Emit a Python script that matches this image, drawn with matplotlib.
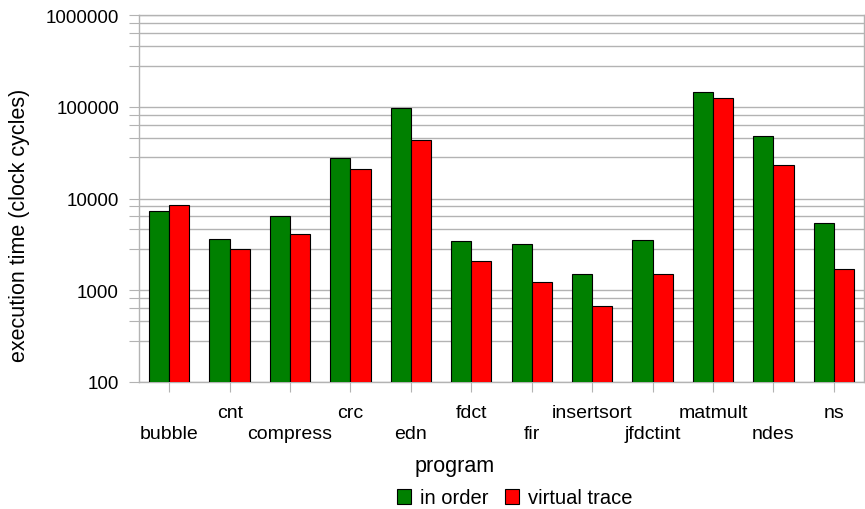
import numpy as np
import matplotlib
matplotlib.use('Agg')
import matplotlib.pyplot as plt
from matplotlib.ticker import FixedLocator, FuncFormatter, NullFormatter
from matplotlib.patches import Patch

plt.rcParams['font.family'] = ['Liberation Sans', 'DejaVu Sans']

# data
programs = ['bubble', 'cnt', 'compress', 'crc', 'edn', 'fdct', 'fir',
            'insertsort', 'jfdctint', 'matmult', 'ndes', 'ns']
in_order = [7350, 3610, 6480, 27500, 96600, 3430, 3190, 1500, 3520, 145000, 47900, 5400]
virtual_trace = [8400, 2810, 4100, 21200, 43300, 2080, 1215, 678, 1510, 124000, 23300, 1700]

grid_col = '#b3b3b3'

fig = plt.figure(figsize=(8.65, 5.1), dpi=100)
ax = fig.add_axes([139 / 865, 1 - 383 / 510, 725 / 865, 367 / 510])

x = np.arange(len(programs))
w = 1 / 3
ax.bar(x - w / 2, in_order, w, color='#008000', edgecolor='black', linewidth=0.8, zorder=3)
ax.bar(x + w / 2, virtual_trace, w, color='#ff0000', edgecolor='black', linewidth=0.8, zorder=3)

ax.set_yscale('log')
ax.set_ylim(100, 1000000)
ax.set_xlim(-0.5, len(programs) - 0.5)

# major ticks at decades, minor lines split each decade linearly in 5
majors = [10.0 ** p for p in range(2, 7)]
minors = [10.0 ** p * (1 + 1.8 * k) for p in range(2, 6) for k in range(1, 5)]
ax.yaxis.set_major_locator(FixedLocator(majors))
ax.yaxis.set_minor_locator(FixedLocator(minors))
ax.yaxis.set_major_formatter(FuncFormatter(lambda v, pos: str(int(round(v)))))
ax.yaxis.set_minor_formatter(NullFormatter())
ax.grid(True, which='both', axis='y', color=grid_col, linewidth=1, zorder=0)
ax.set_axisbelow(True)

ax.tick_params(axis='y', which='both', direction='out', length=7.2, width=0.8,
               color=grid_col, pad=7.2, labelsize=13.5)
ax.tick_params(axis='x', which='major', direction='out', length=7.2, width=0.8,
               color=grid_col, pad=8.6, labelsize=14)

ax.set_xticks(x)
ax.set_xticklabels(programs)
# staggered labels: even ones one row lower
for i, lab in enumerate(ax.get_xticklabels()):
    if i % 2 == 0:
        lab.set_y(-20.7 / 367)

for s in ax.spines.values():
    s.set_color(grid_col)
    s.set_linewidth(1)

ax.set_ylabel('execution time (clock cycles)', fontsize=15.5, va='center')
ax.yaxis.set_label_coords((20 - 139) / 725, (383 - 225) / 367)
ax.set_xlabel('program', fontsize=15.5, va='center')
ax.xaxis.set_label_coords((455 - 139) / 725, -(467 - 383) / 367)

handles = [Patch(facecolor='#008000', edgecolor='black', linewidth=0.8, label='in order'),
           Patch(facecolor='#ff0000', edgecolor='black', linewidth=0.8, label='virtual trace')]
fig.legend(handles=handles, loc='center', bbox_to_anchor=(515 / 865, 1 - 499 / 510),
           ncol=2, frameon=False, fontsize=14.5, handlelength=0.7, handleheight=0.7,
           handletextpad=0.45, columnspacing=0.8, borderpad=0, borderaxespad=0)

fig.savefig('out.png', dpi=100)
